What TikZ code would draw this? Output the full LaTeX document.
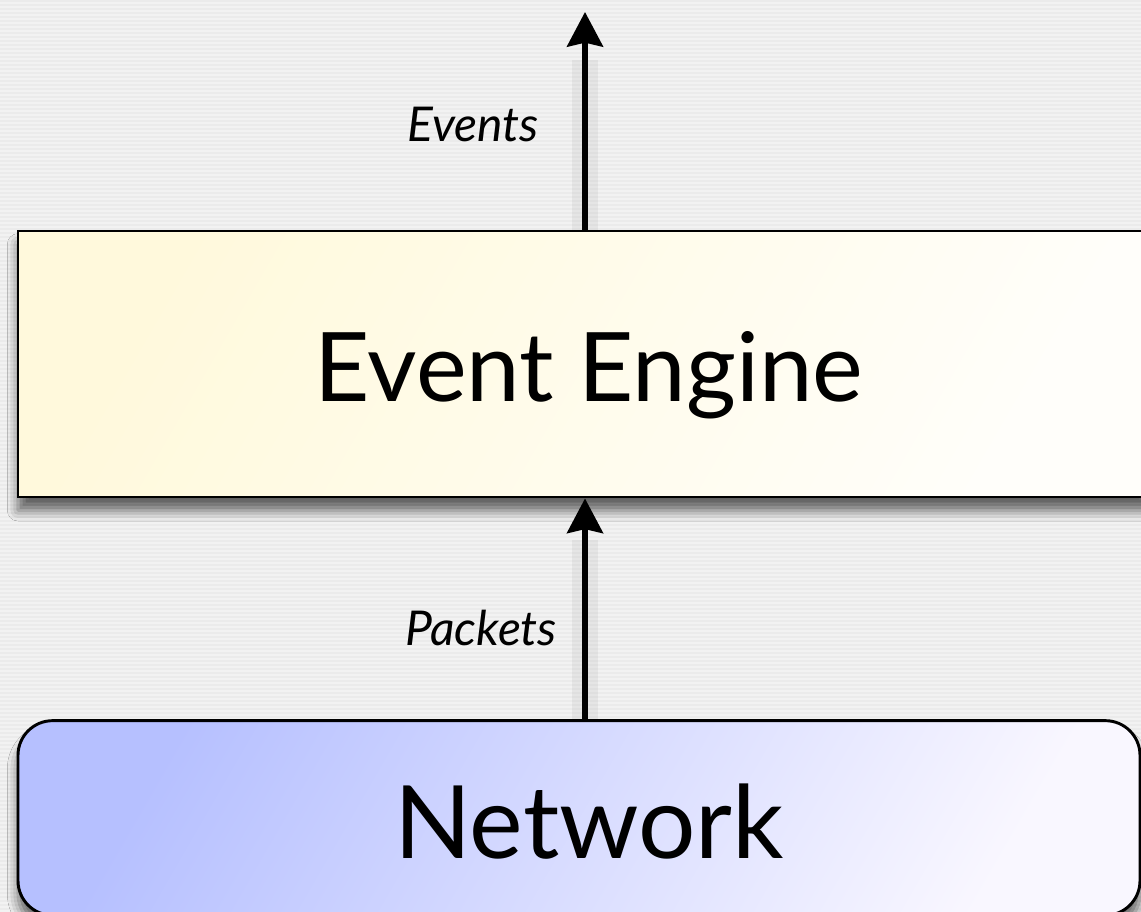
\documentclass[tikz,border=0pt]{standalone}
\usepackage{fontspec}
\setmainfont{Lato}
\usetikzlibrary{arrows.meta,shadows.blur}
\definecolor{bgA}{HTML}{F2F2F2}
\definecolor{bgB}{HTML}{EBEBEB}
\definecolor{engA}{HTML}{FFF9DC}
\definecolor{engB}{HTML}{FFFEFA}
\definecolor{netA}{HTML}{B6C0FF}
\definecolor{netB}{HTML}{F9F7FF}
\tikzset{
  box/.style={draw=black, line width=2.2pt, inner sep=0pt,
    blur shadow={shadow xshift=0pt, shadow yshift=-10pt, shadow blur radius=8pt, shadow opacity=60}},
  bigtext/.style={font=\fontsize{72}{78}\selectfont, text=black},
  netfont/.style={font=\fontsize{76}{80}\selectfont, text=black},
  lbl/.style={font=\itshape\fontsize{36}{40}\selectfont, text=black},
  flow/.style={line width=3.8pt, -{Stealth[length=26pt, width=27pt, inset=3pt]}},
}
\begin{document}
\begin{tikzpicture}[x=0.75pt, y=-0.75pt]
\useasboundingbox (0,0) rectangle (1141,912);
\clip (0,0) rectangle (1141,912);
% background stripes
\fill[bgA] (0,0) rectangle (1141,912);
\foreach \i in {0,...,228}{
  \fill[bgB] (0,\i*4) rectangle (1141,\i*4+2);
}
% boxes
\node[box, minimum width=849pt, minimum height=199.5pt,
      left color=engA, right color=engB, shading angle=60] (engine) at (584,364) {};
\node[box, rounded corners=26pt, minimum width=841.5pt, minimum height=146pt,
      left color=netA, right color=netB, shading angle=60] (net) at (579,818) {};
% arrow shadows
\foreach \dx in {-6,6}{
  \draw[line width=10pt, black, opacity=0.05] ([xshift=\dx*0.75pt]585,60) -- ([xshift=\dx*0.75pt]585,231);
  \draw[line width=10pt, black, opacity=0.05] ([xshift=\dx*0.75pt]585,540) -- ([xshift=\dx*0.75pt]585,722);
}
% texts
\node[bigtext] (engL) at (589,375) {Event Engine};
\node[netfont] (netL) at (589,822) {Network};
\node[lbl] (evL) at (473,125) {Events};
\node[lbl] (pkL) at (481,628) {Packets};
% arrows
\coordinate (top) at (585,12);
\draw[flow] (net.north -| 585,0) -- (engine.south -| 585,0);
\draw[flow] (engine.north -| 585,0) -- (top);
\end{tikzpicture}
\end{document}
